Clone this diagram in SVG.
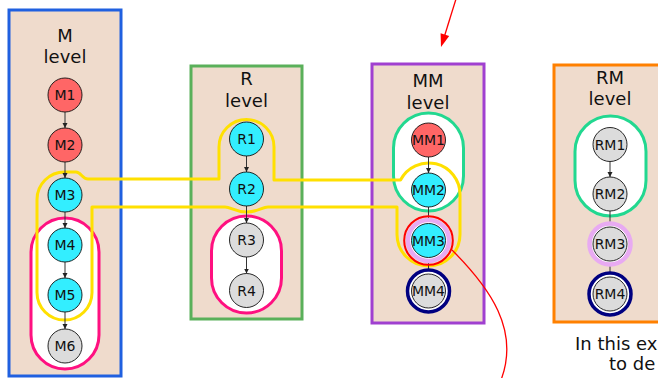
<svg xmlns="http://www.w3.org/2000/svg" width="658" height="378" viewBox="0 0 658 378">
<style>
.panel{fill:#efdbcc;stroke-width:3}
.lbl{font-family:"DejaVu Sans",sans-serif;font-size:18px;fill:#111;text-anchor:middle}
.nt{font-family:"DejaVu Sans",sans-serif;font-size:14px;fill:#111;text-anchor:middle}
.n{stroke:#111;stroke-width:0.9}
.red{fill:#ff6666}
.cyan{fill:#33eeff}
.gray{fill:#dcdcdc}
.grp{fill:#fff;stroke-width:3}
.pink{stroke:#ff1080}
.green{stroke:#22d890}
.e{stroke:#333;stroke-width:1;fill:none;marker-end:url(#ah)}
.vio{fill:#fff;stroke:#e8aaf2;stroke-width:4.5}
.navy{fill:#fff;stroke:#000080;stroke-width:3.5}
</style>
<defs>
<marker id="ah" markerWidth="6" markerHeight="6" refX="5" refY="3" orient="auto" markerUnits="userSpaceOnUse">
<path d="M0,0.5 L5,3 L0,5.5 z" fill="#222"/>
</marker>
</defs>

<g id="panels">
<rect class="panel" x="9" y="10" width="112" height="366" stroke="#2060e0"/>
<rect class="panel" x="191" y="66" width="111" height="253" stroke="#5ab05a"/>
<rect class="panel" x="372" y="64" width="112" height="259" stroke="#a040d0"/>
<rect class="panel" x="554" y="65" width="110" height="257" stroke="#ff8000"/>
<text class="lbl" x="65" y="42">M</text>
<text class="lbl" x="65" y="63">level</text>
<text class="lbl" x="246.5" y="85">R</text>
<text class="lbl" x="246.5" y="106.5">level</text>
<text class="lbl" x="428" y="87">MM</text>
<text class="lbl" x="428" y="108.5">level</text>
<text class="lbl" x="610" y="83.5">RM</text>
<text class="lbl" x="610" y="105">level</text>
</g>

<g id="clusters">
<rect class="grp pink" x="31" y="218" width="68" height="151" rx="34"/>
<rect class="grp pink" x="211.5" y="216" width="70" height="97" rx="35"/>
<rect class="grp green" x="393.5" y="113" width="70" height="98" rx="35"/>
<rect class="grp green" x="575" y="116" width="71" height="100" rx="35.5"/>
<path d="M92,207 L92,292.5 A27.5,27.5 0 0 1 37,292.5 L37,199.5 A27.5,27.5 0 0 1 64.5,172 L76,172 C81,172 82,179 88,179 L219,179 L219,147 A27.5,27.5 0 0 1 274,147 L274,180 L400.5,180 A31.5,31.5 0 0 1 460,194.5 L460,234.5 A31.5,31.5 0 0 1 397,234.5 L397,207 L268,207 C262,207 258,212 246.5,212 C235,212 231,207 225,207 Z" fill="none" stroke="#ffe000" stroke-width="3" stroke-linejoin="round"/>
</g>

<g id="connectors">
<line class="e" x1="65" y1="112" x2="65" y2="128"/>
<line class="e" x1="65" y1="162" x2="65" y2="178"/>
<line class="e" x1="65" y1="212" x2="65" y2="228"/>
<line class="e" x1="65" y1="262" x2="65" y2="278"/>
<line class="e" x1="65" y1="312" x2="65" y2="329"/>
<line class="e" x1="246.5" y1="156" x2="246.5" y2="172"/>
<line class="e" x1="246.5" y1="206" x2="246.5" y2="223"/>
<line class="e" x1="246.5" y1="257" x2="246.5" y2="273.5"/>
<line class="e" x1="428.5" y1="157" x2="428.5" y2="173"/>
<line class="e" x1="428.5" y1="207" x2="428.5" y2="223.5"/>
<line class="e" x1="428.5" y1="257.5" x2="428.5" y2="274"/>
<line class="e" x1="610" y1="161.5" x2="610" y2="177"/>
<line class="e" x1="610" y1="211" x2="610" y2="227"/>
<line class="e" x1="610" y1="261" x2="610" y2="277"/>
<path d="M452,250 C490,288 520,330 501,380" fill="none" stroke="#ff0000" stroke-width="1.3"/>
<line x1="456" y1="-1" x2="444.5" y2="36" stroke="#ff0000" stroke-width="1.3"/>
<polygon points="441,47 440.6,33.3 449.2,35.9" fill="#ff0000"/>
</g>

<g id="M1"><circle class="n red" cx="65" cy="95" r="17"/><text class="nt" x="65" y="100">M1</text></g>
<g id="M2"><circle class="n red" cx="65" cy="145" r="17"/><text class="nt" x="65" y="150">M2</text></g>
<g id="M3"><circle class="n cyan" cx="65" cy="195" r="17"/><text class="nt" x="65" y="200">M3</text></g>
<g id="M4"><circle class="n cyan" cx="65" cy="245" r="17"/><text class="nt" x="65" y="250">M4</text></g>
<g id="M5"><circle class="n cyan" cx="65" cy="295" r="17"/><text class="nt" x="65" y="300">M5</text></g>
<g id="M6"><circle class="n gray" cx="65" cy="346" r="17"/><text class="nt" x="65" y="351">M6</text></g>

<g id="R1"><circle class="n cyan" cx="246.5" cy="139" r="17"/><text class="nt" x="246.5" y="144">R1</text></g>
<g id="R2"><circle class="n cyan" cx="246.5" cy="189" r="17"/><text class="nt" x="246.5" y="194">R2</text></g>
<g id="R3"><circle class="n gray" cx="246.5" cy="240" r="17"/><text class="nt" x="246.5" y="245">R3</text></g>
<g id="R4"><circle class="n gray" cx="246.5" cy="290.5" r="17"/><text class="nt" x="246.5" y="295.5">R4</text></g>

<g id="MM1"><circle class="n red" cx="428.5" cy="140" r="17"/><text class="nt" x="428.5" y="145">MM1</text></g>
<g id="MM2"><circle class="n cyan" cx="428.5" cy="190" r="17"/><text class="nt" x="428.5" y="195">MM2</text></g>
<g id="MM3"><circle cx="428.5" cy="240.5" r="24.3" fill="none" stroke="#ff0000" stroke-width="2"/><circle class="vio" cx="428.5" cy="240.5" r="20.5"/><circle class="n cyan" cx="428.5" cy="240.5" r="17"/><text class="nt" x="428.5" y="245.5">MM3</text></g>
<g id="MM4"><circle class="navy" cx="428.5" cy="291" r="21"/><circle class="n gray" cx="428.5" cy="291" r="17"/><text class="nt" x="428.5" y="296">MM4</text></g>

<g id="RM1"><circle class="n gray" cx="610" cy="144.5" r="17"/><text class="nt" x="610" y="149.5">RM1</text></g>
<g id="RM2"><circle class="n gray" cx="610" cy="194" r="17"/><text class="nt" x="610" y="199">RM2</text></g>
<g id="RM3"><circle class="vio" cx="610" cy="244" r="20.5"/><circle class="n gray" cx="610" cy="244" r="17"/><text class="nt" x="610" y="249">RM3</text></g>
<g id="RM4"><circle class="navy" cx="610" cy="294" r="21"/><circle class="n gray" cx="610" cy="294" r="17"/><text class="nt" x="610" y="299">RM4</text></g>

<g id="caption">
<text font-family="DejaVu Sans, sans-serif" font-size="18" fill="#111" x="575" y="350">In this ex</text>
<text font-family="DejaVu Sans, sans-serif" font-size="18" fill="#111" x="609" y="370">to de</text>
</g>
</svg>
